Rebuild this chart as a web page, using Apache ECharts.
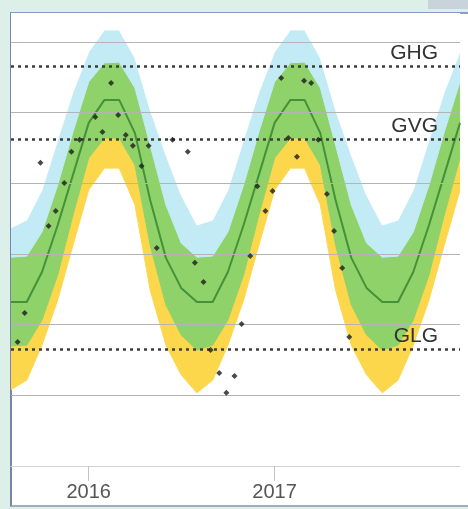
<!DOCTYPE html>
<html>
<head>
<meta charset="utf-8">
<script src="https://cdn.jsdelivr.net/npm/echarts@6/dist/echarts.min.js"></script>
<style>
html,body{margin:0;padding:0;background:#dcefe8;overflow:hidden;}
#corner{position:absolute;left:428px;top:0;width:40px;height:9px;background:#c9d3dc;}
#panel{position:absolute;left:10px;top:12px;width:458px;height:495px;background:#ffffff;
  border-left:2px solid #7a84a6;border-top:2px solid #8d9cc4;border-bottom:2px solid #a3adbd;box-sizing:border-box;}
#chart{position:absolute;left:0;top:0;width:468px;height:509px;}
</style>
</head>
<body>
<div id="corner"></div>
<div id="panel"></div>
<div id="chart"></div>
<script>
// Monthly climatology band boundaries (depth below surface, cm)
const months = ['2015-08-01','2015-09-01','2015-10-01','2015-11-01','2015-12-01',
  '2016-01-01','2016-02-01','2016-03-01','2016-04-01','2016-05-01','2016-06-01','2016-07-01',
  '2016-08-01','2016-09-01','2016-10-01','2016-11-01','2016-12-01',
  '2017-01-01','2017-02-01','2017-03-01','2017-04-01','2017-05-01','2017-06-01','2017-07-01',
  '2017-08-01','2017-09-01','2017-10-01','2017-11-01','2017-12-01','2018-01-01'];
const upper95 = [92.6, 90.4, 81.9, 67.7, 54.2, 42.8, 36.6, 36.6, 44.5, 59.2, 72.0, 83.3,
  91.8, 90.4, 81.9, 67.7, 54.2, 42.8, 36.6, 36.6, 44.5, 59.2, 72.0, 83.3,
  91.8, 90.4, 81.9, 67.7, 54.2, 42.8];
const upper75 = [100.9, 100.6, 93.8, 80.5, 65.5, 51.3, 45.9, 45.7, 53.0, 69.2, 86.1, 96.9,
  100.9, 100.6, 93.8, 80.5, 65.5, 51.3, 45.9, 45.7, 53.0, 69.2, 86.1, 96.9,
  100.9, 100.6, 93.8, 80.5, 65.5, 51.3];
const median = [113.6, 113.6, 105.1, 91.8, 77.6, 62.9, 56.4, 56.4, 65.8, 84.7, 101.1, 109.6,
  113.6, 113.6, 105.1, 91.8, 77.6, 62.9, 56.4, 56.4, 65.8, 84.7, 101.1, 109.6,
  113.6, 113.6, 105.1, 91.8, 77.6, 62.9];
const lower25 = [126.0, 125.8, 118.7, 105.9, 89.0, 72.8, 67.2, 67.2, 74.8, 97.5, 114.4, 122.9,
  127.2, 125.8, 118.7, 105.9, 89.0, 72.8, 67.2, 67.2, 74.8, 97.5, 114.4, 122.9,
  127.2, 125.8, 118.7, 105.9, 89.0, 72.8];
const lower5 = [138.4, 135.7, 125.8, 113.0, 97.5, 81.9, 75.7, 75.7, 86.1, 110.2, 125.8, 134.2,
  139.3, 135.7, 125.8, 113.0, 97.5, 81.9, 75.7, 75.7, 86.1, 110.2, 125.8, 134.2,
  139.3, 135.7, 125.8, 113.0, 97.5, 81.9];

// Measurements
const measDates = ['2015-08-14','2015-08-28','2015-09-28','2015-10-14','2015-10-28','2015-11-14','2015-11-28',
  '2015-12-14','2016-01-14','2016-01-28','2016-02-14','2016-02-28','2016-03-14','2016-03-28',
  '2016-04-14','2016-04-28','2016-05-14','2016-06-14','2016-07-14','2016-07-28','2016-08-14',
  '2016-08-28','2016-09-14','2016-09-28','2016-10-14','2016-10-28','2016-11-14','2016-11-28',
  '2016-12-14','2016-12-28','2017-01-14','2017-01-28','2017-02-14','2017-02-28','2017-03-14',
  '2017-03-28','2017-04-14','2017-04-28','2017-05-14','2017-05-28'];
const measValues = [124.9, 116.7, 74.2, 92.1, 87.8, 79.9, 71.1,
  67.7, 61.2, 65.5, 51.6, 60.7, 66.3, 69.4,
  75.1, 69.4, 98.3, 67.7, 71.1, 102.5, 107.9,
  127.2, 133.7, 139.3, 134.5, 119.8, 100.6, 80.8,
  87.8, 82.2, 50.2, 67.2, 72.5, 51.0, 51.6,
  67.7, 83.0, 93.5, 104.0, 123.5];

// Reference levels
const refNames = ['GHG', 'GVG', 'GLG'];
const refValues = [46.8, 67.4, 126.9];
const gridValues = [40, 60, 80, 100, 120, 140];
const yearTicks = ['2016-01-01', '2017-01-01'];
const xRange = ['2015-08-01', '2018-01-01'];

const chart = echarts.init(document.getElementById('chart'));
const toTs = s => { const p = s.split('-'); return Date.UTC(+p[0], +p[1]-1, +p[2]); };
const pair = (arr) => months.map((m, i) => [toTs(m), arr[i]]);

// Each band layer fills from its boundary up to the top of the plot; painted bottom layer first
const layer = (name, arr, color, z) => ({
  type: 'line', name: name, data: pair(arr), symbol: 'none', silent: true, z: z,
  lineStyle: { width: 1, color: color },
  areaStyle: { color: color, opacity: 1, origin: 'start' }
});

const option = {
  backgroundColor: 'transparent',
  animation: false,
  grid: { left: 11, right: 8, top: 13, bottom: 43 },
  xAxis: {
    type: 'value',
    min: toTs(xRange[0]),
    max: toTs(xRange[1]),
    axisLine: { show: true, onZero: false, lineStyle: { color: '#d2d2d2', width: 1 } },
    axisTick: { show: true, customValues: yearTicks.map(toTs), length: 15, lineStyle: { color: '#c4c4c4' } },
    axisLabel: {
      customValues: yearTicks.map(toTs),
      formatter: v => String(new Date(v).getUTCFullYear()),
      fontSize: 20, color: '#555', fontFamily: 'Liberation Sans, Arial, sans-serif', margin: 16
    },
    splitLine: { show: false }
  },
  yAxis: {
    type: 'value',
    inverse: true,
    min: 31.8,
    max: 160,
    axisLine: { show: false },
    axisTick: { show: false },
    axisLabel: { show: false },
    splitLine: { show: false }
  },
  series: [
    layer('p5', lower5, '#fcd74c', 1),
    layer('p25', lower25, '#8fd26a', 1.1),
    layer('p75', upper75, '#c3ebf6', 1.2),
    layer('p95', upper95, '#ffffff', 1.3),
    {
      type: 'line', name: 'grid', data: [], z: 3, silent: true,
      markLine: {
        silent: true, symbol: 'none', animation: false,
        lineStyle: { color: '#b4b4b4', width: 1, type: 'solid' },
        label: { show: false },
        data: gridValues.map(v => ({ yAxis: v }))
      }
    },
    {
      type: 'line', name: 'median', data: pair(median), symbol: 'none', z: 4,
      lineStyle: { color: '#449238', width: 2 }
    },
    {
      type: 'line', name: 'refs', data: [], z: 5, silent: true,
      markLine: {
        silent: true, symbol: 'none', animation: false,
        lineStyle: { color: '#3c3c3c', width: 2.5, type: [3, 4] },
        label: {
          show: true, position: 'insideEndTop', distance: 2,
          padding: [0, 20, 0, 0],
          fontSize: 21, color: '#333', fontFamily: 'Liberation Sans, Arial, sans-serif',
          formatter: p => p.name
        },
        data: refNames.map((n, i) => ({ name: n, yAxis: refValues[i] }))
      }
    },
    {
      type: 'scatter', name: 'meting', z: 6,
      data: measDates.map((d, i) => [toTs(d), measValues[i]]),
      symbol: 'diamond', symbolSize: 6,
      itemStyle: { color: '#1c1c1c' }
    }
  ]
};
chart.setOption(option);
</script>
</body>
</html>
